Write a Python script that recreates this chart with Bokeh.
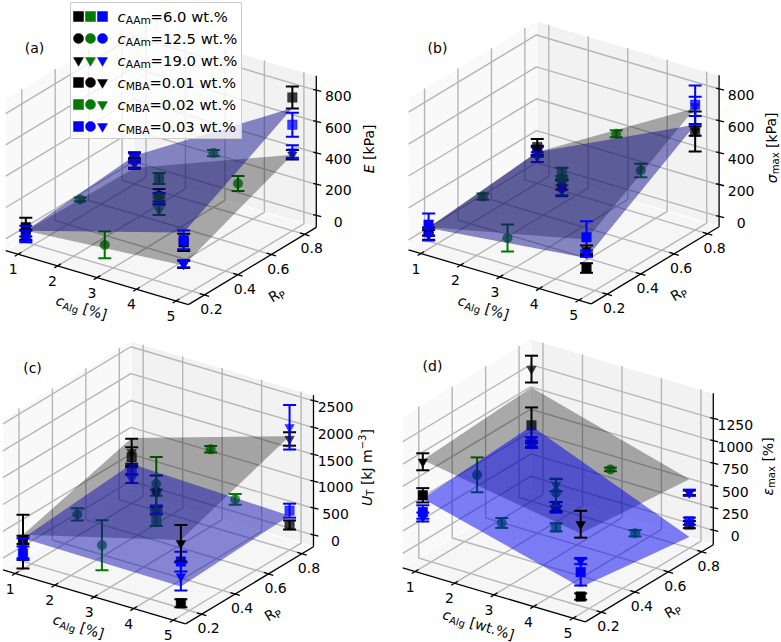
import numpy as np
from bokeh.plotting import figure
from bokeh.models import Range1d
from bokeh.core.properties import value
from bokeh.embed import file_html
from bokeh.resources import INLINE

# ---- samples: alginate, ionic ratio, marker (cAAm), colour (cMBA)
CALG = [1, 1, 1, 1, 5, 5, 5, 5, 1, 1, 1, 1, 5, 5, 5, 5, 3, 1, 5, 3, 3, 3, 3, 3, 3]
RP = [.15, .15, .15, .15, .15, .15, .15, .15, .8, .8, .8, .8, .8, .8, .8, .8,
      .15, .475, .475, .8, .475, .475, .475, .475, .475]
MARK = ["square", "square", "inverted_triangle", "inverted_triangle"] * 4 + ["circle"] * 4 + \
       ["square", "inverted_triangle", "circle", "circle", "circle"]
COL = ["black", "blue", "black", "blue"] * 4 + ["green"] * 4 + ["green", "green", "black", "blue", "green"]

E_VAL = [68, 25, 20, 14, 270, 285, 131, 131, 97, 91, 59, 50, 776, 602, 410, 431, 104, 36, 436, 272, 319, 116, 212, 191, 202]
E_ERR = [60, 53, 32, 32, 55, 60, 25, 20, 30, 30, 30, 30, 70, 77, 30, 40, 85, 12, 48, 20, 35, 30, 40, 35, 10]
S_VAL = [46, 89, 25, 25, 110, 303, 221, 200, 164, 133, 143, 101, 554, 722, 558, 712, 152, 59, 516, 394, 352, 246, 278, 257, 320]
S_ERR = [25, 70, 30, 35, 30, 100, 30, 20, 50, 30, 30, 30, 125, 120, 30, 60, 85, 20, 42, 22, 35, 30, 30, 50, 15]
U_VAL = [323, 75, 292, 168, 13, 789, 1131, 510, 640, 423, 733, 236, 249, 516, 1851, 2069, 659, 187, 1336, 1224, 510, 1028, 1050, 714, 1193]
U_ERR = [75, 125, 500, 185, 75, 185, 340, 260, 185, 95, 250, 75, 85, 130, 125, 415, 465, 115, 100, 62, 105, 60, 295, 75, 500]
M_VAL = [640, 453, 1015, 397, 30, 303, 839, 427, 689, 502, 1318, 476, 101, 139, 457, 457, 592, 502, 371, 457, 176, 650, 408, 400, 565]
M_ERR = [80, 75, 95, 50, 35, 150, 150, 35, 200, 55, 150, 40, 40, 40, 25, 35, 55, 195, 35, 20, 45, 70, 50, 60, 150]

# surface heights at the corners (1,low) (5,low) (5,high) (1,high)
E_GREY = [46, 121, 410, 27]
E_BLUE = [46, 333, 708, 106]
S_GREY = [72, 289, 701, 133]
S_BLUE = [68, 173, 596, 133]
U_GREY = [417, 1193, 1903, 1000]
U_BLUE = [354, 323, 423, 516]
M_GREY = [1034, 734, 607, 1112]
M_BLUE = [603, 135, -37, 682]

XTICKS = [1, 2, 3, 4, 5]
YTICKS = [.2, .4, .6, .8]
ZTICKS_E = [0, 200, 400, 600, 800]
ZTICKS_U = [0, 500, 1000, 1500, 2000, 2500]
ZTICKS_M = [0, 250, 500, 750, 1000, 1250]

XLIM = (.686, 5.314)
YLIM = (.104, .869)

COLORS = {"black": "#000000", "green": "#007a00", "blue": "#0000ff"}
FONT = value("DejaVu Sans")
FS = 14.0
WIDTHS = {'c': .55, 'A': .684, 'a': .613, 'm': .974, 'l': .278, 'g': .635, ' ': .318, '[': .39, '%': .95, ']': .39,
          'k': .579, 'P': .603, 'E': .632, 'M': .863, 'B': .686, 'T': .611, 'R': .695, 'U': .732, 'w': .818, 't': .392,
          '.': .318, '=': .838, 'x': .592, '−': .838, 'ε': .54, 'σ': .63, 'J': .295, '3': .636}

p = figure(width=781, height=642, output_backend="svg", toolbar_location=None,
           x_range=Range1d(0, 781), y_range=Range1d(642, 0), x_axis_location=None, y_axis_location=None,
           min_border=0, outline_line_color=None)
p.grid.visible = False

EL, AZ = np.radians(25), np.radians(-55)
R_ = np.array([-np.sin(AZ), np.cos(AZ), 0])
U_ = np.array([-np.sin(EL) * np.cos(AZ), -np.sin(EL) * np.sin(AZ), np.cos(EL)])
S = 223.0


def twidth(s, size):
    return sum(WIDTHS.get(ch, .636) for ch in s) * size


def rich(x, y, segs, angle=0.0, size=FS, center=True):
    """segs: (text, 'n'|'i'|'s'|'u')  normal / italic / subscript / superscript"""
    a = np.radians(angle)
    dx, dy = np.cos(a), -np.sin(a)
    nx, ny = np.sin(a), np.cos(a)
    sizes = [size * .72 if k in "su" else size for _, k in segs]
    total = sum(twidth(t, s) for (t, _), s in zip(segs, sizes))
    pos = -total / 2 if center else 0.0
    for (t, k), s in zip(segs, sizes):
        off = size * .27 if k == "s" else -size * .33 if k == "u" else 0
        stripped = t.lstrip(" ")
        pos += twidth(t[:len(t) - len(stripped)], s)
        p.text(x=[x + dx * pos + nx * off], y=[y + dy * pos + ny * off], text=[stripped], angle=[a],
               text_font=FONT, text_font_size=f"{s:.1f}px", text_color="#000000",
               text_baseline="middle", text_align="left",
               text_font_style="italic" if k == "i" else "normal")
        pos += twidth(stripped, s)


def panel(cx, cy, zlim, ztick, zval, zerr, grey, blue, grey_col, blue_col, xl, yl, zl, zsegs, xsegs, tag, tagxy):
    def pj(x, y, z):
        x, y, z = np.broadcast_arrays(np.asarray(x, float), np.asarray(y, float), np.asarray(z, float))
        P = np.stack([(x - XLIM[0]) / (XLIM[1] - XLIM[0]) - .5,
                      (y - YLIM[0]) / (YLIM[1] - YLIM[0]) - .5,
                      ((z - zlim[0]) / (zlim[1] - zlim[0]) - .5) * .75], -1)
        return cx + S * (P @ R_), cy - S * (P @ U_)

    x0, x1 = XLIM
    y0, y1 = YLIM
    z0, z1 = zlim
    # panes
    for xs, ys, zs, c in [([x0, x0, x0, x0], [y0, y1, y1, y0], [z0, z0, z1, z1], "#f9f9f9"),
                          ([x0, x1, x1, x0], [y1, y1, y1, y1], [z0, z0, z1, z1], "#f2f2f2"),
                          ([x0, x1, x1, x0], [y0, y0, y1, y1], [z0, z0, z0, z0], "#f6f6f6")]:
        sx, sy = pj(xs, ys, zs)
        p.patch(sx, sy, fill_color=c, line_color="#ffffff", line_width=1)
    # grid
    GC, GW = "#b6b6b6", 1.4
    for t in XTICKS:
        sx, sy = pj([t, t, t], [y0, y1, y1], [z0, z0, z1])
        p.line(sx, sy, line_color=GC, line_width=GW)
    for t in YTICKS:
        sx, sy = pj([x1, x0, x0], [t, t, t], [z0, z0, z1])
        p.line(sx, sy, line_color=GC, line_width=GW)
    for t in ztick:
        sx, sy = pj([x0, x0, x1], [y0, y1, y1], [t, t, t])
        p.line(sx, sy, line_color=GC, line_width=GW)
    # axes
    for xs, ys, zs in [([x0, x1], [y0, y0], [z0, z0]), ([x1, x1], [y0, y1], [z0, z0]), ([x1, x1], [y1, y1], [z0, z1])]:
        sx, sy = pj(xs, ys, zs)
        p.line(sx, sy, line_color="black", line_width=1.3)
    for t in XTICKS:
        sx, sy = pj([t, t], [y0 - .02, y0 + .02], [z0, z0])
        p.line(sx, sy, line_color="black", line_width=1.3)
        lx, ly = pj(t, y0, z0)
        p.text(x=[float(lx) - 5], y=[float(ly) + 15], text=[str(t)], text_font=FONT, text_font_size=f"{FS}px",
               text_align="center", text_baseline="middle")
    for t in YTICKS:
        sx, sy = pj([x1 - .12, x1 + .12], [t, t], [z0, z0])
        p.line(sx, sy, line_color="black", line_width=1.3)
        lx, ly = pj(x1, t, z0)
        p.text(x=[float(lx) + 7], y=[float(ly) + 14], text=[f"{t:.1f}"], text_font=FONT, text_font_size=f"{FS}px",
               text_align="center", text_baseline="middle")
    for t in ztick:
        lx, ly = pj(x1, y1, t)
        lx, ly = float(lx), float(ly)
        p.line([lx - 3, lx + 5], [ly - 1, ly + 1], line_color="black", line_width=1.3)
        p.text(x=[lx + 22], y=[ly + 6], text=[str(t)], text_font=FONT, text_font_size=f"{FS}px",
               text_align="center", text_baseline="middle")
    # samples
    cal, rpv, zv, ze = map(lambda a: np.asarray(a, float), (CALG, RP, zval, zerr))
    front = (rpv == min(RP)) & (cal != 3)

    def samples(mask, alpha):
        for i in np.where(mask)[0]:
            c = COLORS[COL[i]]
            sx, sy = pj([cal[i], cal[i]], [rpv[i], rpv[i]], [zv[i] - ze[i], zv[i] + ze[i]])
            p.line(sx, sy, line_color=c, line_width=2)
            p.scatter(sx, sy, marker="dash", size=13, line_color=c, line_width=2)
            mx, my = pj(cal[i], rpv[i], zv[i])
            p.scatter([float(mx)], [float(my)], marker=MARK[i], size=9.5, fill_color=c, fill_alpha=alpha,
                      line_color=c, line_alpha=alpha, line_width=.5)

    samples(~front, .75)
    cornx, corny = [1, 5, 5, 1], [min(RP), min(RP), max(RP), max(RP)]
    for h, col, alpha in [(grey, grey_col, .32), (blue, blue_col, .5)]:
        sx, sy = pj(cornx, corny, h)
        p.patch(sx, sy, fill_color=col, fill_alpha=alpha, line_color=None)
    samples(front, 1.0)
    # labels
    rich(xl[0], xl[1], xsegs, angle=-17)
    rich(yl[0], yl[1], [("R", "n"), ("P", "s")], angle=31)
    rich(zl[0], zl[1], zsegs, angle=90)
    p.text(x=[tagxy[0]], y=[tagxy[1]], text=[tag], text_font=FONT, text_font_size=f"{FS}px",
           text_align="center", text_baseline="middle")


panel(160.5, 162.7, (-75, 893), ZTICKS_E, E_VAL, E_ERR, E_GREY, E_BLUE, "#000000", "#14148c",
      (81, 307), (276, 294), (368, 148), [("E", "i"), (" [kPa]", "n")],
      [("c", "i"), ("Alg", "s"), (" [%]", "n")], "(a)", (34, 47))
panel(563.3, 162, (-63, 887), ZTICKS_E, S_VAL, S_ERR, S_GREY, S_BLUE, "#000000", "#14148c",
      (483, 307), (678, 293), (771, 147), [("σ", "i"), ("max", "s"), (" [kPa]", "n")],
      [("c", "i"), ("Alg", "s"), (" [%]", "n")], "(b)", (437, 47))
panel(157.7, 482, (-217, 2606), ZTICKS_U, U_VAL, U_ERR, U_GREY, U_BLUE, "#000000", "#1414b0",
      (78, 626), (272, 613), (366, 467), [("U", "i"), ("T", "s"), (" [kJ m", "n"), ("−3", "u"), ("]", "n")],
      [("c", "i"), ("Alg", "s"), (" [%]", "n")], "(c)", (32, 367))
panel(557.5, 480, (-161, 1535), ZTICKS_M, M_VAL, M_ERR, M_GREY, M_BLUE, "#000000", "#0000f0",
      (478, 624), (672, 610), (767, 466), [("ε", "i"), ("max", "s"), (" [%]", "n")],
      [("c", "i"), ("Alg", "s"), (" [wt.%]", "n")], "(d)", (432, 365))

# legend
LEG_SUB = ["AAm", "AAm", "AAm", "MBA", "MBA", "MBA"]
LEG_VAL = ["6.0", "12.5", "19.0", "0.01", "0.02", "0.03"]
LEG_MARK = [["square"] * 3, ["circle"] * 3, ["inverted_triangle"] * 3,
            ["square", "circle", "inverted_triangle"], ["square", "circle", "inverted_triangle"],
            ["square", "circle", "inverted_triangle"]]
LEG_COL = [["black", "green", "blue"]] * 3 + [["black"] * 3, ["green"] * 3, ["blue"] * 3]
p.quad(left=[70], right=[241], top=[2], bottom=[138], fill_color="white", fill_alpha=.8, line_color="#cccccc", line_width=1)
for r in range(6):
    yy = 16 + r * 22
    for k, xx in enumerate((78, 90, 102)):
        c = COLORS[LEG_COL[r][k]]
        p.scatter([xx], [yy], marker=LEG_MARK[r][k], size=10, fill_color=c, line_color=c, line_width=.5)
    rich(117, yy, [("c", "i"), (LEG_SUB[r], "s"), (f"={LEG_VAL[r]} wt.%", "n")], size=14.8, center=False)

open("out.html", "w").write(file_html(p, INLINE))
